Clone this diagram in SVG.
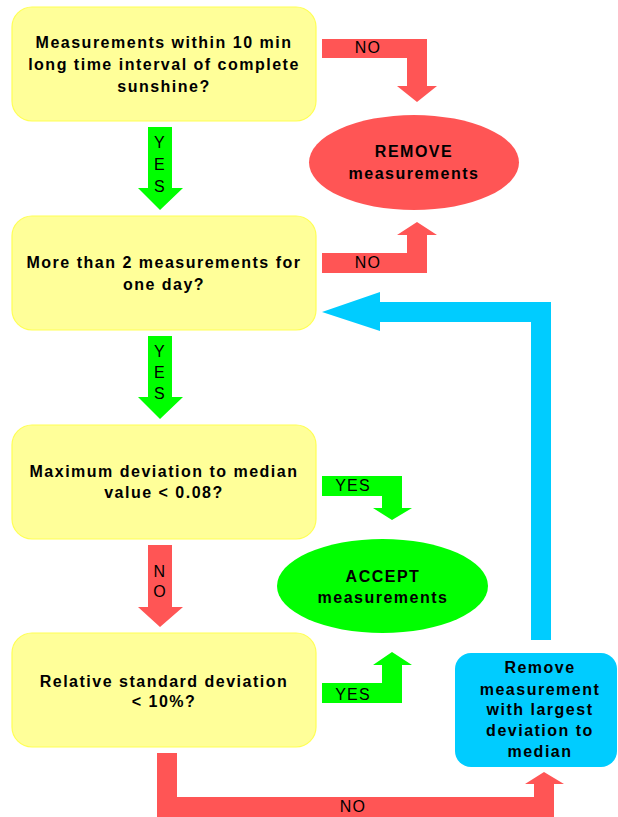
<svg xmlns="http://www.w3.org/2000/svg" width="618" height="817" viewBox="0 0 618 817">
<style>
.box{fill:#FFFF99;stroke:#FFFF55;stroke-width:1.2}
.t{font-family:"Liberation Sans",Arial,sans-serif;font-size:16px;font-weight:bold;fill:#000;text-anchor:middle;letter-spacing:1.5px}
.l{font-family:"Liberation Sans",Arial,sans-serif;font-size:16px;fill:#000;text-anchor:middle;letter-spacing:1.2px}
.red{fill:#FF5555}
.green{fill:#00FF00}
.blue{fill:#00CCFF}
</style>
<rect width="618" height="817" fill="#FFFFFF"/>
<g id="connectors">
  <!-- YES down 1 -->
  <polygon class="green" points="148,127 172,127 172,188 183,188 160,210 138,188 148,188"/>
  <text class="l" x="160" y="148">Y</text><text class="l" x="160" y="170">E</text><text class="l" x="160" y="192">S</text>
  <!-- YES down 2 -->
  <polygon class="green" points="148,336 172,336 172,397 183,397 160,419 138,397 148,397"/>
  <text class="l" x="160" y="357">Y</text><text class="l" x="160" y="378">E</text><text class="l" x="160" y="399">S</text>
  <!-- NO down -->
  <polygon class="red" points="148,545 172,545 172,607 183,607 160,627 138,607 148,607"/>
  <text class="l" x="160" y="577">N</text><text class="l" x="160" y="597">O</text>
  <!-- NO to remove (top) -->
  <polygon class="red" points="322,39 427,39 427,86 437,86 417,102 397,86 407,86 407,58 322,58"/>
  <text class="l" x="368" y="53">NO</text>
  <!-- NO to remove (bottom) -->
  <polygon class="red" points="322,253 407,253 407,235 397,235 417,222 437,235 427,235 427,273 322,273"/>
  <text class="l" x="368" y="268">NO</text>
  <!-- YES to accept (top) -->
  <polygon class="green" points="322,476 402,476 402,508 412,508 392,520 373,508 382,508 382,496 322,496"/>
  <text class="l" x="353" y="491">YES</text>
  <!-- YES to accept (bottom) -->
  <polygon class="green" points="322,683 382,683 382,665 373,665 392,652 412,665 402,665 402,703 322,703"/>
  <text class="l" x="353" y="700">YES</text>
  <!-- NO bottom loop to remove box -->
  <polygon class="red" points="157,753 177,753 177,797 534,797 534,784 525,784 544,772 564,784 554,784 554,817 157,817"/>
  <text class="l" x="353" y="812">NO</text>
  <!-- Blue loop back -->
  <polygon class="blue" points="531,640 551,640 551,302 380,302 380,292 322,312 380,331 380,322 531,322"/>
</g>
<g id="n1">
  <rect class="box" x="12" y="7" width="304" height="114" rx="20"/>
  <text class="t" x="164" y="48">Measurements within 10 min</text>
  <text class="t" x="164" y="70">long time interval of complete</text>
  <text class="t" x="164" y="92">sunshine?</text>
</g>
<g id="n2">
  <rect class="box" x="12" y="216" width="304" height="114" rx="20"/>
  <text class="t" x="164" y="268">More than 2 measurements for</text>
  <text class="t" x="164" y="290">one day?</text>
</g>
<g id="n3">
  <rect class="box" x="12" y="425" width="304" height="114" rx="20"/>
  <text class="t" x="164" y="477">Maximum deviation to median</text>
  <text class="t" x="164" y="498">value &lt; 0.08?</text>
</g>
<g id="n4">
  <rect class="box" x="12" y="633" width="304" height="114" rx="20"/>
  <text class="t" x="164" y="687">Relative standard deviation</text>
  <text class="t" x="164" y="707">&lt; 10%?</text>
</g>
<g id="remove">
  <ellipse class="red" cx="414" cy="162.5" rx="105" ry="47.5"/>
  <text class="t" x="414" y="157">REMOVE</text>
  <text class="t" x="414" y="179">measurements</text>
</g>
<g id="accept">
  <ellipse class="green" cx="382.5" cy="586" rx="105.5" ry="47"/>
  <text class="t" x="383" y="582">ACCEPT</text>
  <text class="t" x="383" y="603">measurements</text>
</g>
<g id="removeOne">
  <rect class="blue" x="455" y="653" width="162" height="114" rx="16"/>
  <text class="t" x="540" y="673">Remove</text>
  <text class="t" x="540" y="695">measurement</text>
  <text class="t" x="540" y="715">with largest</text>
  <text class="t" x="540" y="736">deviation to</text>
  <text class="t" x="540" y="757">median</text>
</g>
</svg>
